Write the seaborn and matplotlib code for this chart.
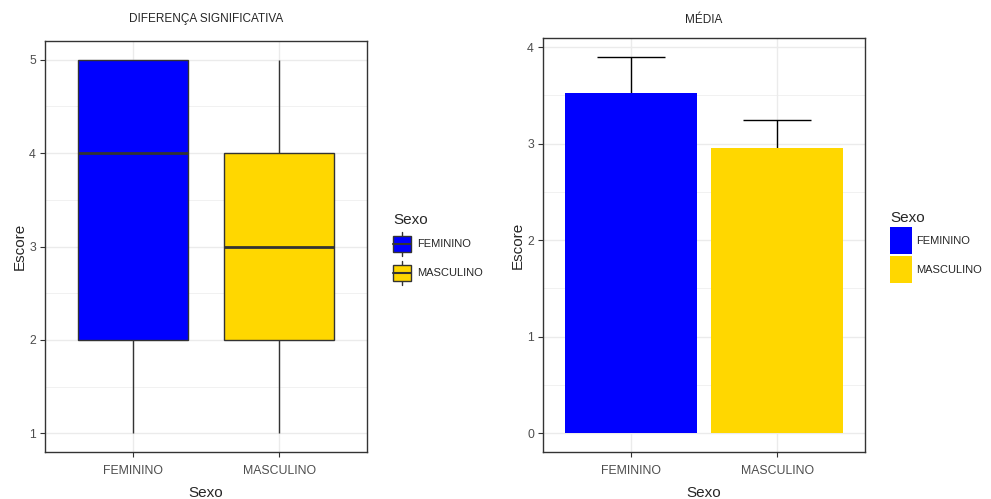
import numpy as np
import pandas as pd
import matplotlib
matplotlib.use("Agg")
import matplotlib.pyplot as plt
import seaborn as sns
from matplotlib.patches import Patch, Rectangle
from matplotlib.lines import Line2D
from matplotlib.legend_handler import HandlerBase
from matplotlib.ticker import MultipleLocator

sexo = ["FEMININO", "MASCULINO"]
cores = {"FEMININO": "#0000FF", "MASCULINO": "#FFD700"}

# escores individuais (reproduzem os quartis do boxplot)
escore_fem = [1, 2, 2, 3, 4, 4, 5, 5, 5]
escore_masc = [1, 2, 2, 3, 3, 3, 4, 4, 5]

# media e erro (barra de erro superior)
media = [3.52, 2.955]
erro = [0.38, 0.29]

sns.set_style("white")
plt.rcParams["font.family"] = ["Liberation Sans", "DejaVu Sans"]
CINZA = "#333333"
GRADE = "#EBEBEB"
PT = 0.72  # pixels -> pontos a 100 dpi


class ChaveHandler(HandlerBase):
    """Chave de legenda estilo ggplot (retangulo centrado, opcional caixa)."""

    def __init__(self, larg, alt, caixa=False):
        super().__init__()
        self.larg, self.alt, self.caixa = larg, alt, caixa

    def create_artists(self, legend, orig_handle, xdescent, ydescent,
                       width, height, fontsize, trans):
        cx = -xdescent + width / 2
        cy = -ydescent + height / 2
        w, h = self.larg * PT, self.alt * PT
        arts = []
        if self.caixa:
            arts.append(Line2D([cx, cx], [cy - 12 * PT, cy + 12 * PT],
                               color=CINZA, linewidth=1.0, transform=trans))
        arts.append(Rectangle((cx - w / 2, cy - h / 2), w, h,
                              facecolor=orig_handle.get_facecolor(),
                              edgecolor=CINZA if self.caixa else "none",
                              linewidth=1.0 if self.caixa else 0,
                              transform=trans))
        if self.caixa:
            arts.append(Line2D([cx - w / 2, cx + w / 2], [cy, cy],
                               color=CINZA, linewidth=1.5, transform=trans))
        return arts


df = pd.DataFrame({
    "Sexo": ["FEMININO"] * len(escore_fem) + ["MASCULINO"] * len(escore_masc),
    "Escore": escore_fem + escore_masc,
})

fig = plt.figure(figsize=(9.91, 4.99), dpi=100)
ax1 = fig.add_axes([45 / 991, 47 / 499, 322 / 991, 411 / 499])
ax2 = fig.add_axes([543 / 991, 47 / 499, 322 / 991, 414 / 499])

sns.boxplot(data=df, x="Sexo", y="Escore", hue="Sexo", palette=cores,
            saturation=1, width=0.75, linecolor=CINZA, linewidth=1.0,
            medianprops=dict(linewidth=2.0), capprops=dict(visible=False),
            legend=False, ax=ax1)
ax1.set_xlim(-0.6, 1.6)
ax1.set_ylim(0.8, 5.2)

pos = np.arange(len(sexo))
ax2.errorbar(pos, media, yerr=erro, fmt="none", ecolor="black",
             elinewidth=1.0, capsize=24.5, capthick=1.0, zorder=0.8)
sns.barplot(x=sexo, y=media, hue=sexo, palette=cores, saturation=1,
            width=0.9, linewidth=0, errorbar=None, legend=False, ax=ax2,
            zorder=1)
ax2.set_xlim(-0.6, 1.6)
ax2.set_ylim(-0.195, 4.095)

for ax, titulo, pad in [(ax1, "DIFERENÇA SIGNIFICATIVA", 14), (ax2, "MÉDIA", 11)]:
    ax.set_axisbelow(True)
    ax.yaxis.set_major_locator(MultipleLocator(1))
    ax.yaxis.set_minor_locator(MultipleLocator(0.5))
    ax.grid(which="major", color=GRADE, linewidth=1.0)
    ax.grid(which="minor", axis="y", color=GRADE, linewidth=0.5)
    ax.tick_params(which="major", length=3.5, width=0.8, color=CINZA,
                   labelcolor="#4D4D4D", labelsize=8.8, pad=3,
                   left=True, bottom=True)
    ax.tick_params(axis="x", pad=6)
    ax.tick_params(which="minor", length=0)
    for sp in ax.spines.values():
        sp.set_color(CINZA)
        sp.set_linewidth(1.0)
    ax.set_xlabel("Sexo", fontsize=11, labelpad=6)
    ax.set_ylabel("Escore", fontsize=11, labelpad=2)
    ax.set_title(titulo, fontsize=8.5, pad=pad)

# legenda do boxplot
h_box = [Patch(facecolor=cores[s]) for s in sexo]
fig.legend(h_box, sexo, title="Sexo", loc="upper left",
           bbox_to_anchor=(393 / 991, 1 - 213 / 499), frameon=False,
           handler_map={Patch: ChaveHandler(18, 16, caixa=True)},
           handlelength=1.6, handleheight=2.81, handletextpad=0.54,
           labelspacing=0.5, borderpad=0, borderaxespad=0,
           alignment="left", prop={"size": 8},
           title_fontproperties={"size": 11})

# legenda das barras
h_bar = [Patch(facecolor=cores[s]) for s in sexo]
fig.legend(h_bar, sexo, title="Sexo", loc="upper left",
           bbox_to_anchor=(890 / 991, 1 - 211 / 499), frameon=False,
           handler_map={Patch: ChaveHandler(22, 27)},
           handlelength=1.98, handleheight=3.365, handletextpad=0.36,
           labelspacing=0.18, borderpad=0, borderaxespad=0,
           alignment="left", prop={"size": 8},
           title_fontproperties={"size": 11})

fig.savefig("out.png", dpi=100)
